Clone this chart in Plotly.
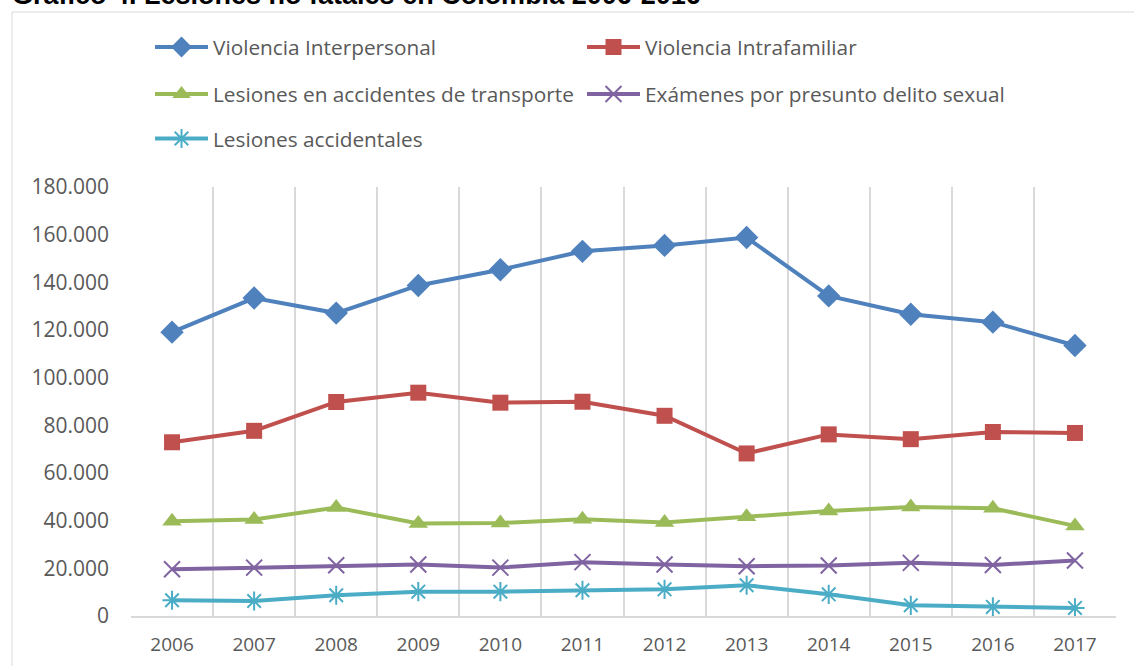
import plotly.graph_objects as go

years = ["2006", "2007", "2008", "2009", "2010", "2011",
         "2012", "2013", "2014", "2015", "2016", "2017"]

violencia_interpersonal = [119100, 133400, 127100, 138700, 145300, 153000,
                           155500, 158800, 134300, 126600, 123300, 113500]
violencia_intrafamiliar = [72900, 77700, 89800, 93700, 89500, 89900,
                           84000, 68200, 76200, 74200, 77200, 76800]
accidentes_transporte = [39800, 40500, 45500, 38800, 39000, 40600,
                         39200, 41600, 44100, 45700, 45200, 37800]
delito_sexual = [19600, 20300, 21300, 21600, 20300, 22600,
                 21600, 20900, 21200, 22300, 21400, 23300]
lesiones_accidentales = [6600, 6300, 8700, 10200, 10200, 10800,
                         11200, 12900, 9100, 4500, 3800, 3400]

series = [
    ("Violencia Interpersonal", violencia_interpersonal, "#4f81bd", "diamond", 18, "legend"),
    ("Violencia Intrafamiliar", violencia_intrafamiliar, "#c0504d", "square", 16, "legend"),
    ("Lesiones en accidentes de transporte", accidentes_transporte, "#9bbb59", "triangle-up", 17, "legend2"),
    ("Exámenes por presunto delito sexual", delito_sexual, "#8064a2", "x-thin-open", 16, "legend2"),
    ("Lesiones accidentales", lesiones_accidentales, "#4bacc6", "asterisk-open", 16, "legend3"),
]

W, H = 1134, 666
L, R, T, B = 131, 18, 187, 50
PW, PH = W - L - R, H - T - B

fig = go.Figure()
for name, vals, color, sym, size, leg in series:
    marker = dict(symbol=sym, size=size, color=color)
    if sym.endswith("-open"):
        marker["line"] = dict(color=color, width=2)
    fig.add_trace(go.Scatter(
        x=years, y=vals, name=name, mode="lines+markers",
        line=dict(color=color, width=4),
        marker=marker, legend=leg,
    ))

FONT = "Open Sans"
legend_common = dict(
    orientation="h", xref="container", yref="container",
    xanchor="left", yanchor="middle",
    font=dict(family=FONT, size=20.8, color="#595959"),
    itemwidth=53, entrywidth=364, entrywidthmode="pixels",
    bgcolor="rgba(0,0,0,0)", tracegroupgap=0,
)

fig.update_layout(
    width=W, height=H,
    margin=dict(l=L, r=R, t=T, b=B, autoexpand=False),
    paper_bgcolor="white", plot_bgcolor="white",
    separators=",.",
    font=dict(family=FONT, color="#595959"),
    showlegend=True,
    legend=dict(legend_common, x=150 / W, y=1 - 47.5 / H),
    legend2=dict(legend_common, x=150 / W, y=1 - 94.5 / H),
    legend3=dict(legend_common, x=150 / W, y=1 - 139 / H),
    xaxis=dict(
        type="category", range=[-0.5, 11.5],
        tickson="boundaries", ticks="",
        showgrid=True, gridcolor="#d9d9d9", gridwidth=2,
        showline=True, linecolor="#d9d9d9", linewidth=2,
        tickfont=dict(family=FONT, size=19, color="#595959"),
        ticklabelstandoff=10,
    ),
    yaxis=dict(
        range=[0, 180000], dtick=20000, tickformat=",d",
        showgrid=False, zeroline=False, showline=False,
        tickfont=dict(family=FONT, size=21, color="#595959"),
        ticklabelstandoff=21,
    ),
    shapes=[dict(
        type="rect", xref="paper", yref="paper",
        x0=(12 - L) / PW, x1=1.2, y0=-0.3, y1=(H - B - 12) / PH,
        line=dict(color="#d9d9d9", width=1), fillcolor="rgba(0,0,0,0)",
        layer="below",
    )],
    annotations=[dict(
        text="Gráfico 4. Lesiones no fatales en Colombia 2006-2016",
        xref="paper", yref="paper", x=0, y=1,
        xanchor="left", yanchor="middle",
        xshift=-121, yshift=T + 5, showarrow=False,
        font=dict(family="Liberation Sans", size=27, color="black", weight="bold"),
    )],
)

fig.write_html("out.html",
               config={"displayModeBar": False},
               post_script="document.body.style.margin='0';document.body.style.overflow='hidden';")
